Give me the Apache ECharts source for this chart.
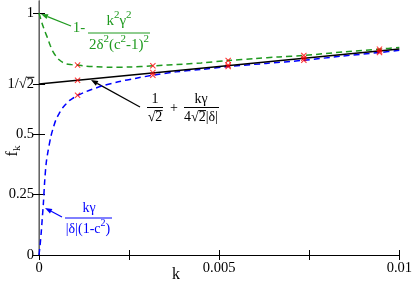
<!DOCTYPE html>
<html><head><meta charset="utf-8">
<script src="https://cdn.jsdelivr.net/npm/echarts@6/dist/echarts.min.js"></script>
<style>html,body{margin:0;padding:0;background:#fff}#c{width:415px;height:282px}</style>
</head><body><div id="c"></div>
<script>
// ---- data ----
const kGreen = [0, 0.00005, 0.0001, 0.00017, 0.00024, 0.00031, 0.00038, 0.00047, 0.00056, 0.00065, 0.00075, 0.0009, 0.00107, 0.0013, 0.0016, 0.002, 0.0025, 0.00316, 0.004, 0.0045, 0.00525, 0.006, 0.00666, 0.00735, 0.0085, 0.00945, 0.01];
const fGreen = [1.0, 0.975, 0.951, 0.922, 0.896, 0.867, 0.843, 0.822, 0.807, 0.797, 0.790, 0.787, 0.785, 0.781, 0.778, 0.776, 0.777, 0.782, 0.789, 0.794, 0.804, 0.812, 0.819, 0.825, 0.840, 0.851, 0.858];
const kBlue = [0, 0.00003, 0.00006, 0.00009, 0.00012, 0.00016, 0.0002, 0.00024, 0.00033, 0.0004, 0.00047, 0.00056, 0.00065, 0.00075, 0.00084, 0.00095, 0.00107, 0.00125, 0.00144, 0.00176, 0.0022, 0.0027, 0.00316, 0.0038, 0.0045, 0.00525, 0.0063, 0.00735, 0.0084, 0.00945, 0.01];
const fBlue = [0, 0.04, 0.09, 0.15, 0.21, 0.31, 0.38, 0.42, 0.49, 0.528, 0.559, 0.585, 0.607, 0.624, 0.638, 0.649, 0.660, 0.672, 0.683, 0.699, 0.716, 0.731, 0.743, 0.757, 0.767, 0.779, 0.792, 0.805, 0.822, 0.837, 0.846];
const kBlack = [0, 0.01];
const fBlack = [0.7071, 0.852];
const kMarks = [0.00107, 0.00316, 0.00525, 0.00735, 0.00945];
const fMarkGreen = [0.785, 0.782, 0.804, 0.825, 0.851];
const fMarkBlack = [0.722, 0.754, 0.785, 0.813, 0.843];
const fMarkBlue = [0.660, 0.743, 0.779, 0.805, 0.837];
const yTicks = [0, 0.25, 0.5, 0.7071, 1];
const yTickLabels = ['0', '0.25', '0.5', '1/\u221A2', '1'];
const xTicks = [0, 0.005, 0.01];
const xTickLabels = ['0', '0.005', '0.01'];

const GREEN = '#1f9a1f', BLUE = '#0000ff', RED = '#ff0000';
const FONT = '"Liberation Serif", "Times New Roman", serif';
const TICK_FS = 14.5;
const pairs = (xs, ys) => xs.map((x, i) => [x, ys[i]]);
const lookup = (vals, labels) => v => { for (let i = 0; i < vals.length; i++) if (Math.abs(v - vals[i]) < 1e-9) return labels[i]; return ''; };
const xMark = 'path://M0,1.2L1.2,0L5,3.8L8.8,0L10,1.2L6.2,5L10,8.8L8.8,10L5,6.2L1.2,10L0,8.8L3.8,5Z';

const ctx = document.createElement('canvas').getContext('2d');
function tw(s, size) { ctx.font = size + 'px ' + FONT; return ctx.measureText(s).width; }

function arrow(x1, y1, x2, y2, color) {
  const a = Math.atan2(y2 - y1, x2 - x1), L = 7, W = 2.6;
  const bx = x2 - L * Math.cos(a), by = y2 - L * Math.sin(a);
  return [
    { type: 'line', shape: { x1: x1, y1: y1, x2: bx, y2: by }, style: { stroke: color, lineWidth: 1.2 } },
    { type: 'polygon', shape: { points: [[x2, y2], [bx + W * Math.sin(a), by - W * Math.cos(a)], [bx - W * Math.sin(a), by + W * Math.cos(a)]] }, style: { fill: color } }
  ];
}
function txt(x, y, s, color, size) {
  return { type: 'text', x: x, y: y, style: { text: s, fill: color, font: size + 'px ' + FONT, align: 'center', verticalAlign: 'middle' } };
}
// rich text with superscripts: parts = [[text, isSup], ...]
function supTxt(x, y, parts, color, size) {
  const str = parts.map(p => '{' + (p[1] ? 's' : 'm') + '|' + p[0] + '}').join('');
  return { type: 'text', x: x, y: y, style: { text: str, align: 'center', verticalAlign: 'middle',
    rich: { m: { font: size + 'px ' + FONT, fill: color, lineHeight: 22 },
            s: { font: Math.round(size * 0.72) + 'px ' + FONT, fill: color, lineHeight: 10, verticalAlign: 'top' } } } };
}
function hline(x1, x2, y, color) {
  return { type: 'line', shape: { x1: x1, y1: y, x2: x2, y2: y }, style: { stroke: color, lineWidth: 1 } };
}
// overline over the radicand of a text (text drawn with given anchor)
function radOver(full, prefix, rad, size, anchorX, align, y, color) {
  const w = tw(full, size);
  const start = align === 'center' ? anchorX - w / 2 : (align === 'right' ? anchorX - w : anchorX);
  const a = start + tw(prefix, size) - 0.3;
  const b = start + tw(prefix + rad, size) + 0.3;
  return hline(a, b, y, color);
}

const axisCommon = { axisLine: { show: true, lineStyle: { color: '#000', width: 1 } }, splitLine: { show: false } };
const chart = echarts.init(document.getElementById('c'), null, { renderer: 'canvas' });
chart.setOption({
  animation: false,
  backgroundColor: '#fff',
  grid: { left: 39, right: 14, top: 1, bottom: 27, containLabel: false },
  xAxis: [
    Object.assign({ type: 'value', min: 0, max: 0.01, interval: 0.0025, position: 'bottom',
      axisTick: { inside: true, length: 5, lineStyle: { color: '#000' } },
      axisLabel: { customValues: xTicks, formatter: lookup(xTicks, xTickLabels), color: '#000', fontFamily: FONT, fontSize: TICK_FS, margin: 6 } }, axisCommon),
    Object.assign({ type: 'value', min: 0, max: 0.01, interval: 0.0025, position: 'top',
      axisTick: { inside: true, length: 5, lineStyle: { color: '#000' } },
      axisLabel: { show: false } }, axisCommon)
  ],
  yAxis: [
    Object.assign({ type: 'value', min: 0, max: 1.05, position: 'left',
      axisTick: { inside: true, length: 6, customValues: yTicks, lineStyle: { color: '#000' } },
      axisLabel: { customValues: yTicks, formatter: lookup(yTicks, yTickLabels), color: '#000', fontFamily: FONT, fontSize: TICK_FS, margin: 5 } }, axisCommon),
    Object.assign({ type: 'value', min: 0, max: 1.05, position: 'right',
      axisTick: { inside: true, length: 6, customValues: yTicks, lineStyle: { color: '#000' } },
      axisLabel: { show: false } }, axisCommon, { axisLine: { show: true, lineStyle: { color: '#888', width: 1.5 } } })
  ],
  series: [
    { type: 'line', data: pairs(kBlack, fBlack), showSymbol: false, lineStyle: { color: '#000', width: 1.5 }, z: 3 },
    { type: 'line', data: pairs(kGreen, fGreen), showSymbol: false, smooth: 0.3, lineStyle: { color: GREEN, width: 1.5, type: [6, 4] }, z: 2 },
    { type: 'line', data: pairs(kBlue, fBlue), showSymbol: false, smooth: 0.3, lineStyle: { color: BLUE, width: 1.5, type: [6, 4] }, z: 2 },
    { type: 'scatter', data: pairs(kMarks, fMarkGreen), symbol: xMark, symbolSize: 6, itemStyle: { color: RED }, z: 5 },
    { type: 'scatter', data: pairs(kMarks, fMarkBlack), symbol: xMark, symbolSize: 6, itemStyle: { color: RED }, z: 5 },
    { type: 'scatter', data: pairs(kMarks, fMarkBlue), symbol: xMark, symbolSize: 6, itemStyle: { color: RED }, z: 5 }
  ],
  graphic: [].concat(
    // overline on the 1/sqrt2 tick label
    [radOver('1/\u221A2', '1/\u221A', '2', TICK_FS, 34, 'right', 77.3, '#000')],
    // axis titles
    [txt(176, 275, 'k', '#000', 16)],
    [{ type: 'text', x: 13, y: 151, rotation: Math.PI / 2,
       style: { text: '{f|f}{s|k}', rich: { f: { font: '16px ' + FONT, fill: '#000' }, s: { font: '11px ' + FONT, fill: '#000', padding: [8, 0, 0, 0] } }, align: 'center', verticalAlign: 'middle' } }],
    // green annotation
    arrow(71, 26, 41, 14, GREEN),
    [txt(79, 28, '1-', GREEN, 15),
     supTxt(119, 21, [['k', 0], ['2', 1], ['\u03B3', 0], ['2', 1]], GREEN, 15),
     hline(88, 150, 33, GREEN),
     supTxt(119, 45, [['2\u03B4', 0], ['2', 1], ['(c', 0], ['2', 1], ['-1)', 0], ['2', 1]], GREEN, 15)],
    // black annotation
    arrow(140, 107, 91, 80, '#000'),
    [txt(155, 99, '1', '#000', 14), hline(147, 163, 107.5, '#000'), txt(155, 117, '\u221A2', '#000', 14),
     radOver('\u221A2', '\u221A', '2', 14, 155, 'center', 110.6, '#000'),
     txt(174, 108, '+', '#000', 14),
     txt(201, 99, 'k\u03B3', '#000', 14), hline(184, 219, 107.5, '#000'), txt(201, 117, '4\u221A2|\u03B4|', '#000', 14),
     radOver('4\u221A2|\u03B4|', '4\u221A', '2', 14, 201, 'center', 110.6, '#000')],
    // blue annotation
    arrow(62, 217, 45, 208, BLUE),
    [txt(89, 208, 'k\u03B3', BLUE, 14), hline(65, 112, 218, BLUE),
     supTxt(88, 229, [['|\u03B4|(1-c', 0], ['2', 1], [')', 0]], BLUE, 14)]
  )
});
</script>
</body></html>
